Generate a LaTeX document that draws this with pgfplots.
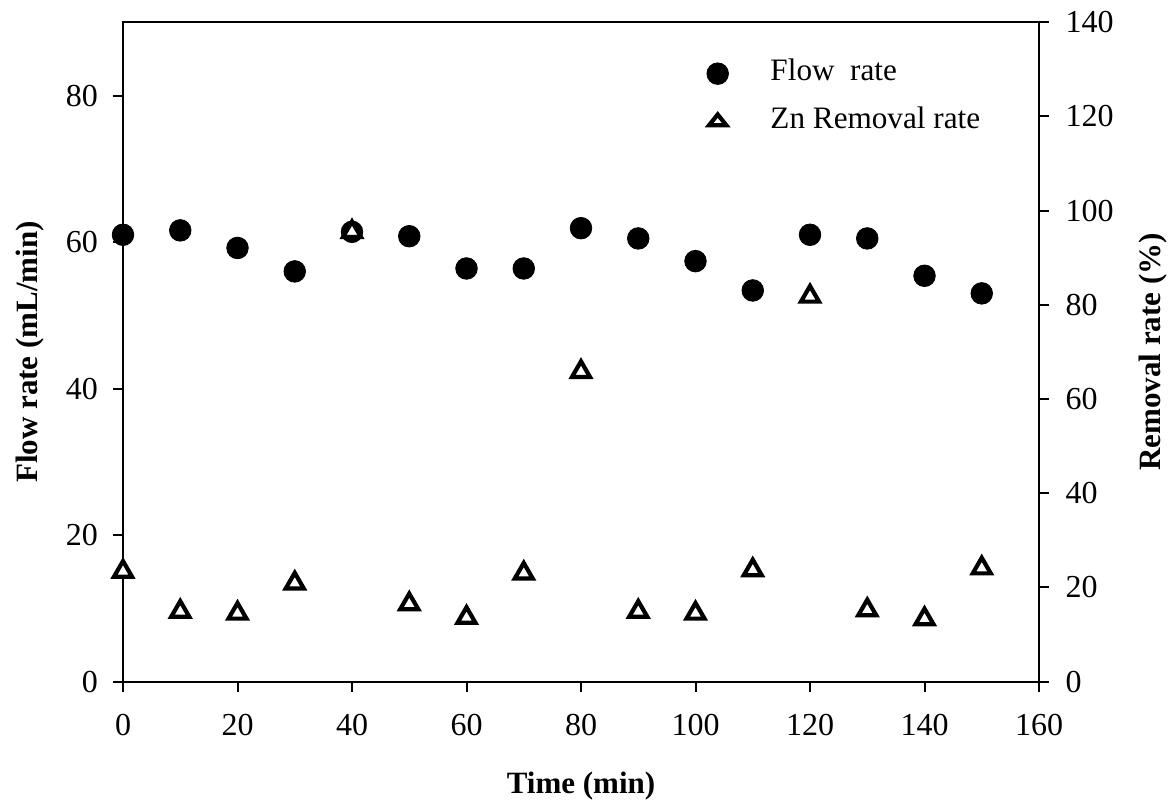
\documentclass[border=0pt]{standalone}
\usepackage{fontspec}
\setmainfont{Liberation Serif}
\usepackage{pgfplots}
\usepackage{pgfplotstable}
\pgfplotsset{compat=1.18}

% time (min) vs. flow rate (mL/min)
\pgfplotstableread{
t   flow
0   61.0
10  61.6
20  59.2
30  56.0
40  61.4
50  60.8
60  56.4
70  56.4
80  61.9
90  60.5
100 57.4
110 53.4
120 61.0
130 60.5
140 55.4
150 53.0
}\flowdata

% time (min) vs. Zn removal rate (%)
\pgfplotstableread{
t   removal
0   23.4
10  14.9
20  14.5
30  20.9
40  95.5
50  16.5
60  13.6
70  23.0
80  65.8
90  14.9
100 14.5
110 23.7
120 81.8
130 15.2
140 13.3
150 24.1
}\removaldata

\pgfplotsset{
  common/.style={
    scale only axis, width=458pt, height=329.7pt,
    at={(61.5pt,63.15pt)}, anchor=south west,
    xmin=0, xmax=160,
    axis line style={line width=1pt},
    every tick/.style={line width=1pt, black},
    major tick length=5pt, tick align=outside,
    /pgf/number format/assume math mode=true,
    tick label style={font=\fontsize{16}{19}\selectfont},
    label style={font=\bfseries\fontsize{15.5}{18}\selectfont},
    clip=false,
  }
}

\begin{document}
\begin{tikzpicture}
\useasboundingbox (0pt,0pt) rectangle (588pt,404pt);

\begin{axis}[common,
  ymin=0, ymax=90, ytick={0,20,...,80},
  xtick={0,20,...,160},
  xtick pos=bottom, ytick pos=left,
  xticklabel style={yshift=-7.5pt},
  yticklabel style={xshift=-4pt},
  xlabel={Time (min)},
  ylabel={Flow rate (mL/min)},
  xlabel style={at={(axis description cs:0.5,-0.158)}, anchor=center},
  ylabel style={at={(axis description cs:-0.102,0.5)}, anchor=center},
]
\addplot[only marks, mark=*, mark size=5.4pt, black] table[x=t, y=flow] {\flowdata};
\end{axis}

\begin{axis}[common,
  ymin=0, ymax=140, ytick={0,20,...,140},
  axis x line=none, axis y line*=right,
  yticklabel style={xshift=4.8pt},
  ylabel={Removal rate (\%)},
  ylabel style={at={(axis description cs:1.125,0.5)}, anchor=center},
  legend style={draw=none, fill=none, inner sep=0pt,
    at={(axis description cs:0.637,0.9424)}, anchor=north west,
    font=\fontsize{15.6}{18}\selectfont,
    row sep=11pt, column sep=21pt,
    nodes={inner sep=0pt, text height=10pt, text depth=3pt},
    cells={anchor=west}},
]
\addlegendimage{only marks, mark=*, mark size=5.4pt, black}
\addlegendentry{Flow~~rate}
\addlegendimage{only marks, mark=triangle*, mark size=5pt, black,
  mark options={fill=white, line width=2.1pt, yscale=0.72}}
\addlegendentry{Zn Removal rate}
\addplot[only marks, mark=triangle*, mark size=5.2pt, black,
  mark options={fill=white, line width=2.1pt}, forget plot]
  table[x=t, y=removal] {\removaldata};
\end{axis}
\end{tikzpicture}
\end{document}
